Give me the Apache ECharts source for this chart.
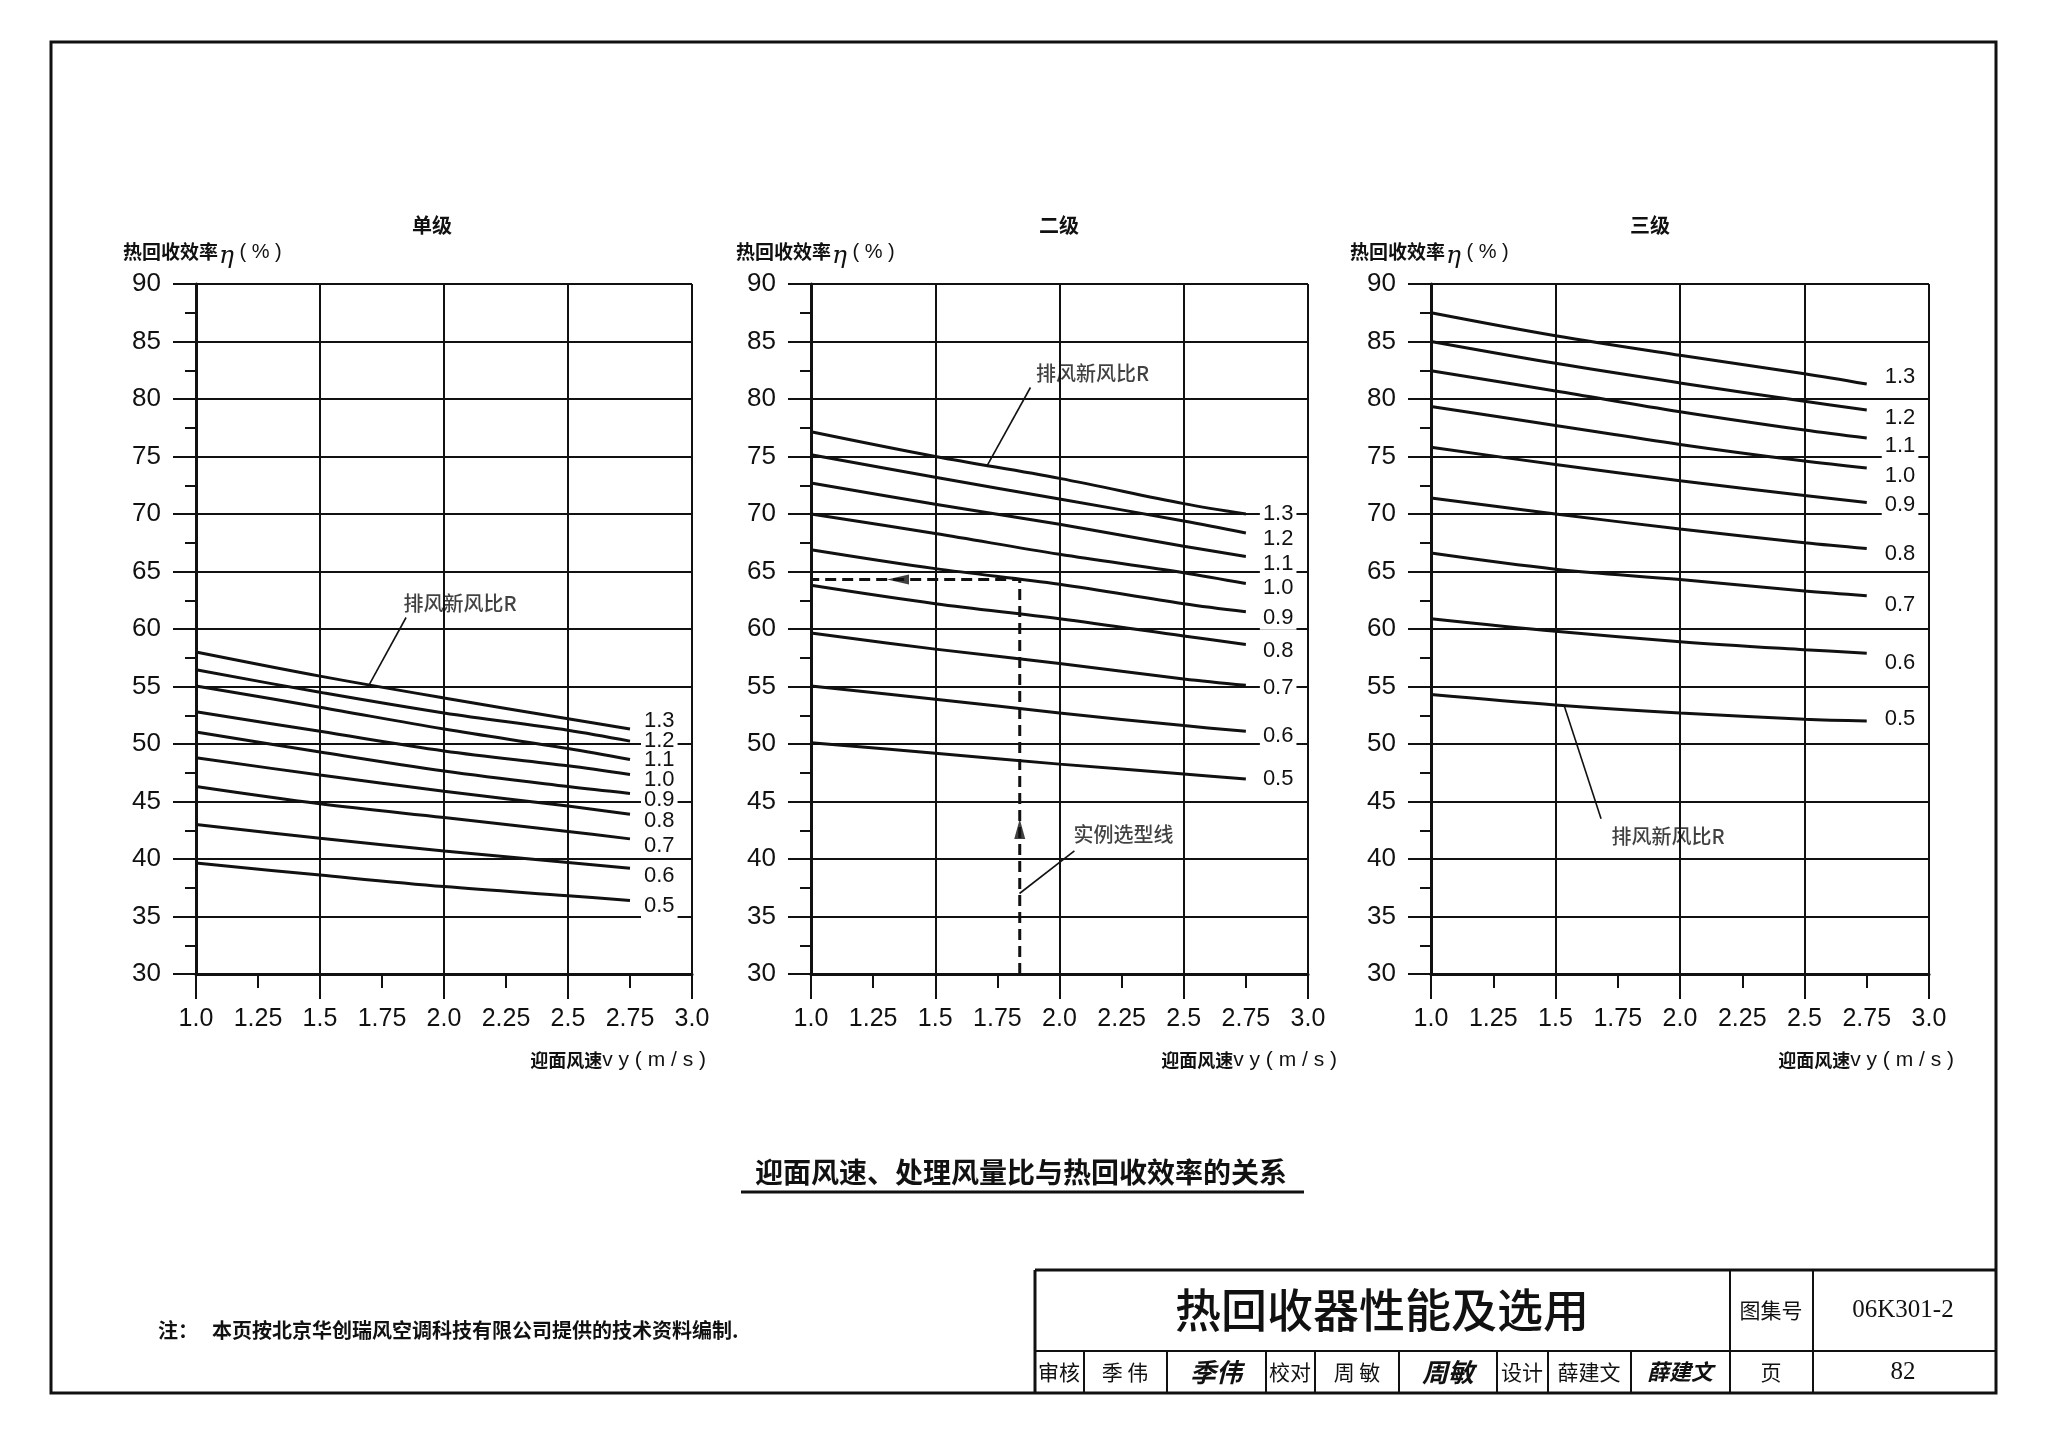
<!DOCTYPE html>
<html><head><meta charset="utf-8">
<script src="https://cdn.jsdelivr.net/npm/echarts@6/dist/echarts.min.js"></script>
<style>html,body{margin:0;padding:0;background:#fff}#c{width:2048px;height:1438px}</style>
</head><body><div id="c"></div>
<script>
// ---------------- data ----------------
const X_VALUES = [1.0, 1.5, 2.0, 2.5, 2.75];
const R_LABELS = ['1.3', '1.2', '1.1', '1.0', '0.9', '0.8', '0.7', '0.6', '0.5'];
const X_TICK_LABELS = ['1.0', '1.25', '1.5', '1.75', '2.0', '2.25', '2.5', '2.75', '3.0'];
const Y_TICK_LABELS = ['30', '35', '40', '45', '50', '55', '60', '65', '70', '75', '80', '85', '90'];
const PANEL_TITLES = ['单级', '二级', '三级'];

// 单级
const SINGLE_STAGE = [
  [58.0, 55.9, 54.0, 52.2, 51.3],
  [56.45, 54.5, 52.7, 51.2, 50.25],
  [55.05, 53.2, 51.3, 49.6, 48.65],
  [52.8, 51.1, 49.4, 48.1, 47.35],
  [51.05, 49.3, 47.65, 46.3, 45.7],
  [48.8, 47.3, 45.9, 44.6, 43.9],
  [46.3, 44.8, 43.6, 42.4, 41.75],
  [43.0, 41.8, 40.7, 39.7, 39.2],
  [39.65, 38.6, 37.6, 36.8, 36.4]
];
// 二级
const TWO_STAGE = [
  [77.15, 75.0, 73.1, 70.9, 70.0],
  [75.15, 73.2, 71.3, 69.4, 68.35],
  [72.7, 70.85, 69.1, 67.2, 66.3],
  [70.0, 68.3, 66.5, 64.9, 63.95],
  [66.9, 65.25, 63.9, 62.2, 61.5],
  [63.8, 62.2, 60.9, 59.4, 58.65],
  [59.65, 58.25, 57.0, 55.65, 55.1],
  [55.05, 53.9, 52.7, 51.6, 51.1],
  [50.1, 49.2, 48.25, 47.4, 46.95]
];
// 三级
const THREE_STAGE = [
  [87.5, 85.5, 83.8, 82.2, 81.3],
  [85.0, 83.1, 81.4, 79.8, 79.05],
  [82.45, 80.7, 78.9, 77.3, 76.6],
  [79.35, 77.7, 76.05, 74.6, 74.0],
  [75.8, 74.3, 72.9, 71.6, 71.0],
  [71.4, 70.0, 68.7, 67.5, 67.0],
  [66.6, 65.2, 64.3, 63.3, 62.9],
  [60.9, 59.8, 58.9, 58.2, 57.9],
  [54.3, 53.4, 52.7, 52.15, 52.0]
];

// annotations (data coordinates)
const R_NAME = '排风新风比R';
const EXAMPLE_NAME = '实例选型线';
const S1_R_TEXT = [2.065, 62.2];
const S1_R_LEADER = [[1.847, 61.0], [1.698, 55.15]];
const S2_R_TEXT = [2.133, 82.2];
const S2_R_LEADER = [[1.883, 81.0], [1.706, 74.1]];
const S2_EX_TEXT = [2.258, 42.1];
const S2_EX_LEADER = [[2.06, 40.7], [1.839, 37.0]];
const S2_EX_PATH = [[1.84, 30], [1.84, 64.3], [1.0, 64.3]];
const S2_EX_ARROW_UP = [1.84, 42.6];
const S2_EX_ARROW_LEFT = [1.35, 64.3];
const S3_R_TEXT = [1.952, 42.0];
const S3_R_LEADER = [[1.683, 43.5], [1.534, 53.4]];

// ---------------- styles ----------------
const NUM_FONT = "'Liberation Sans', Arial, sans-serif";
const CJK = "'Noto Sans CJK SC', sans-serif";
const INK = '#111';
const GRIDS = [
  {left: 196, top: 284, width: 496, height: 690},
  {left: 811, top: 284, width: 497, height: 690},
  {left: 1431, top: 284, width: 498, height: 690}
];
const LABEL_OFFSETS = [
  [-8, 0, 0, 5, 6, 7, 7, 8, 6],
  [0, 6, 7, 4, 6, 6, 3, 5, 0],
  [-7, 8, 8, 8, 2, 5, 9, 10, -2]
];
const LABEL_DIST = [11, 14, 15];

const xAxes = [], yAxes = [], series = [];
GRIDS.forEach((g, gi) => {
  xAxes.push({
    type: 'value', gridIndex: gi, min: 1, max: 3, interval: 0.5, position: 'bottom',
    axisLine: {show: true, onZero: false, lineStyle: {color: INK, width: 3}},
    axisTick: {show: true, length: 25, lineStyle: {color: INK, width: 2}},
    minorTick: {show: true, splitNumber: 2, length: 14, lineStyle: {color: INK, width: 2}},
    splitLine: {show: true, lineStyle: {color: INK, width: 2}},
    axisLabel: {show: false}
  });
  xAxes.push({
    type: 'value', gridIndex: gi, min: 1, max: 3, interval: 0.25, position: 'bottom',
    axisLine: {show: false}, axisTick: {show: false}, splitLine: {show: false},
    axisLabel: {show: true, margin: 33, fontSize: 25, color: INK, fontFamily: NUM_FONT,
      formatter: v => X_TICK_LABELS[Math.round((v - 1) / 0.25)]}
  });
  yAxes.push({
    type: 'value', gridIndex: gi, min: 30, max: 90, interval: 5,
    axisLine: {show: true, onZero: false, lineStyle: {color: INK, width: 3}},
    axisTick: {show: true, length: 23, lineStyle: {color: INK, width: 2}},
    minorTick: {show: true, splitNumber: 2, length: 11, lineStyle: {color: INK, width: 2}},
    splitLine: {show: true, lineStyle: {color: INK, width: 2}},
    axisLabel: {margin: 35, fontSize: 26, color: INK, fontFamily: NUM_FONT,
      formatter: v => Y_TICK_LABELS[Math.round((v - 30) / 5)]}
  });
});

function addCurves(gi, table) {
  table.forEach((vals, i) => {
    series.push({
      type: 'line', xAxisIndex: gi * 2, yAxisIndex: gi, name: PANEL_TITLES[gi] + R_LABELS[i],
      data: X_VALUES.map((x, j) => [x, vals[j]]),
      symbol: 'none', smooth: 0.35, silent: true, z: 3,
      lineStyle: {color: INK, width: 3},
      endLabel: {show: true, formatter: R_LABELS[i], distance: LABEL_DIST[gi],
        offset: [0, LABEL_OFFSETS[gi][i]], color: INK, fontSize: 22, fontFamily: NUM_FONT,
        backgroundColor: '#fff', padding: [1, 3]}
    });
  });
}
addCurves(0, SINGLE_STAGE);
addCurves(1, TWO_STAGE);
addCurves(2, THREE_STAGE);

function leader(gi, pts, w) {
  series.push({type: 'line', xAxisIndex: gi * 2, yAxisIndex: gi, data: pts, symbol: 'none',
    silent: true, z: 4, lineStyle: {color: INK, width: w || 1.6}});
}
function note(gi, pos, text) {
  series.push({type: 'scatter', xAxisIndex: gi * 2, yAxisIndex: gi, data: [pos], symbolSize: 0.1,
    silent: true, z: 5, itemStyle: {color: 'rgba(0,0,0,0)'},
    label: {show: true, position: 'inside', formatter: text, color: INK, fontSize: 20,
      fontFamily: CJK, fontWeight: 500}});
}
leader(0, S1_R_LEADER); note(0, S1_R_TEXT, R_NAME);
leader(1, S2_R_LEADER); note(1, S2_R_TEXT, R_NAME);
leader(1, S2_EX_LEADER); note(1, S2_EX_TEXT, EXAMPLE_NAME);
leader(2, S3_R_LEADER); note(2, S3_R_TEXT, R_NAME);
series.push({type: 'line', xAxisIndex: 2, yAxisIndex: 1, data: S2_EX_PATH, symbol: 'none', silent: true,
  z: 4, lineStyle: {color: INK, width: 3, type: [11, 6]}});
series.push({type: 'scatter', xAxisIndex: 2, yAxisIndex: 1, data: [S2_EX_ARROW_UP], symbol: 'triangle',
  symbolSize: [11, 20], silent: true, z: 6, itemStyle: {color: INK}});
series.push({type: 'scatter', xAxisIndex: 2, yAxisIndex: 1, data: [S2_EX_ARROW_LEFT], symbol: 'triangle',
  symbolSize: [10, 22], symbolRotate: 90, silent: true, z: 6, itemStyle: {color: INK}});

// ---------------- page graphics ----------------
function txt(x, y, text, o) {
  o = o || {};
  return {type: 'text', x: x, y: y, silent: true, z: 10, style: Object.assign({
    text: text, fill: INK, fontSize: 20, fontFamily: CJK,
    align: 'center', verticalAlign: 'middle', textAlign: 'center', textVerticalAlign: 'middle'
  }, o)};
}
function ln(x1, y1, x2, y2, w) {
  return {type: 'line', silent: true, z: 10, shape: {x1: x1, y1: y1, x2: x2, y2: y2},
    style: {stroke: INK, lineWidth: w || 2}};
}
const graphics = [];
graphics.push({type: 'rect', silent: true, z: 10, shape: {x: 51, y: 42, width: 1945, height: 1351},
  style: {fill: 'none', stroke: INK, lineWidth: 3}});
// panel titles and axis names
const TITLE_X = [432, 1059, 1650];
const YNAME_X = [123, 736, 1350];
const XNAME_R = [706, 1337, 1954];
PANEL_TITLES.forEach((t, i) => {
  graphics.push(txt(TITLE_X[i], 225, t, {fontSize: 20, fontWeight: 'bold'}));
  graphics.push(txt(YNAME_X[i], 252, '{a|热回收效率}{b|η}{c| ( % )}', {align: 'left', textAlign: 'left',
    rich: {a: {fontSize: 19, fontWeight: 'bold', fontFamily: CJK, fill: INK},
      b: {fontSize: 25, fontStyle: 'italic', fontFamily: "'DejaVu Serif', serif", fill: INK, padding: [8, 0, 0, 1]},
      c: {fontSize: 20, fontFamily: NUM_FONT, fill: INK}}}));
  graphics.push(txt(XNAME_R[i], 1060, '{a|迎面风速}{b|v y ( m / s )}', {align: 'right', textAlign: 'right',
    rich: {a: {fontSize: 18, fontWeight: 'bold', fontFamily: CJK, fill: INK},
      b: {fontSize: 21, fontFamily: NUM_FONT, fill: INK}}}));
});
// caption
graphics.push(txt(1021, 1172, '迎面风速、处理风量比与热回收效率的关系', {fontSize: 28, fontWeight: 'bold'}));
graphics.push(ln(741, 1192, 1304, 1192, 3));
// note
graphics.push(txt(158, 1330, '注：', {fontSize: 20, fontWeight: 'bold', align: 'left', textAlign: 'left'}));
graphics.push(txt(212, 1330, '本页按北京华创瑞风空调科技有限公司提供的技术资料编制.', {fontSize: 20, fontWeight: 'bold', align: 'left', textAlign: 'left'}));
// title block
graphics.push(ln(1035, 1270, 1996, 1270, 3));
graphics.push(ln(1035, 1270, 1035, 1393, 3));
graphics.push(ln(1035, 1351, 1996, 1351, 2));
[1730, 1813].forEach(x => graphics.push(ln(x, 1270, x, 1393, 2)));
[1084, 1167, 1266, 1315, 1399, 1497, 1548, 1631].forEach(x => graphics.push(ln(x, 1351, x, 1393, 2)));
graphics.push(txt(1382, 1310, '热回收器性能及选用', {fontSize: 46, fontWeight: 500}));
graphics.push(txt(1771, 1310, '图集号', {fontSize: 21}));
graphics.push(txt(1903, 1310, '06K301-2', {fontSize: 25, fontFamily: "'Liberation Serif', serif"}));
const ROW_Y = 1372;
graphics.push(txt(1059, ROW_Y, '审核', {fontSize: 21}));
graphics.push(txt(1125, ROW_Y, '季 伟', {fontSize: 21}));
graphics.push(txt(1216, ROW_Y, '季伟', {fontSize: 26, fontWeight: 'bold', fontStyle: 'italic'}));
graphics.push(txt(1290, ROW_Y, '校对', {fontSize: 21}));
graphics.push(txt(1357, ROW_Y, '周 敏', {fontSize: 21}));
graphics.push(txt(1448, ROW_Y, '周敏', {fontSize: 26, fontWeight: 'bold', fontStyle: 'italic'}));
graphics.push(txt(1522, ROW_Y, '设计', {fontSize: 21}));
graphics.push(txt(1589, ROW_Y, '薛建文', {fontSize: 21}));
graphics.push(txt(1680, ROW_Y, '薛建文', {fontSize: 22, fontWeight: 'bold', fontStyle: 'italic'}));
graphics.push(txt(1771, ROW_Y, '页', {fontSize: 21}));
graphics.push(txt(1903, ROW_Y, '82', {fontSize: 25, fontFamily: "'Liberation Serif', serif"}));

const chart = echarts.init(document.getElementById('c'), null, {renderer: 'canvas', width: 2048, height: 1438});
chart.setOption({
  backgroundColor: '#fff',
  animation: false,
  grid: GRIDS.map(g => Object.assign({containLabel: false}, g)),
  xAxis: xAxes,
  yAxis: yAxes,
  series: series,
  graphic: graphics
});
</script></body></html>
